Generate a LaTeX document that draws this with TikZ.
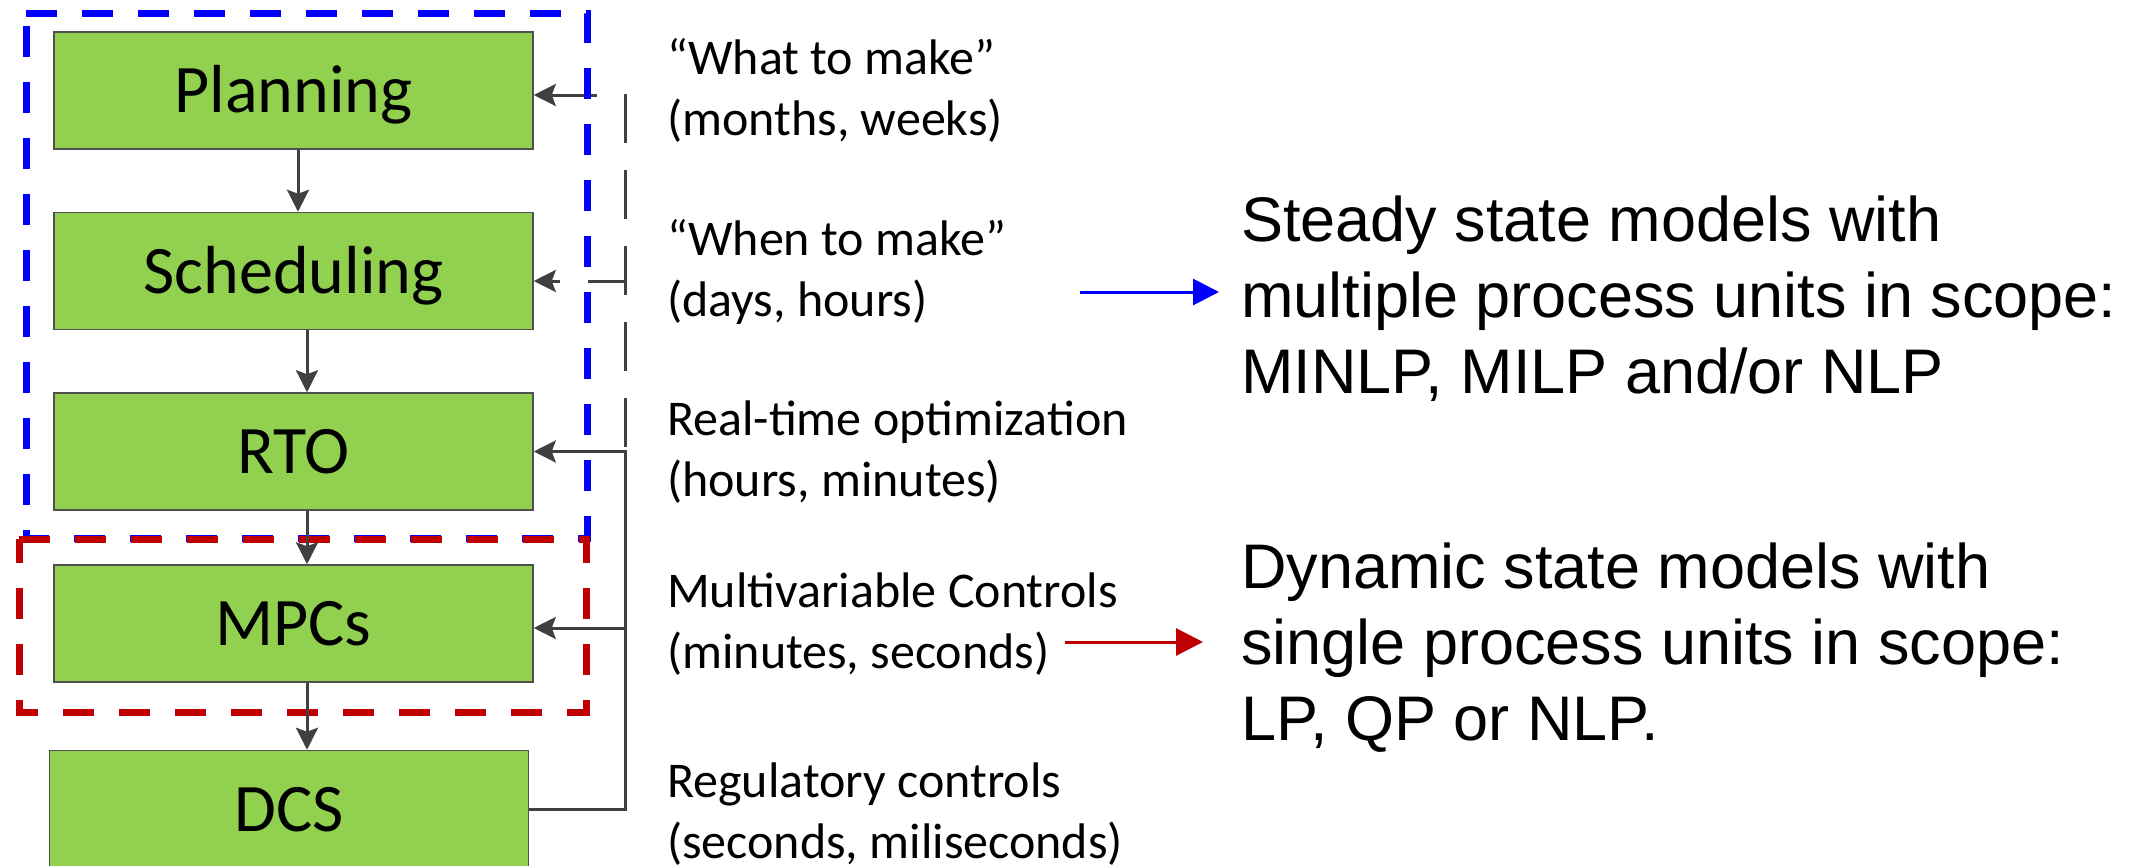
\documentclass[tikz,border=0pt]{standalone}
\usepackage{fontspec}
\setmainfont{Carlito}
\newfontfamily\notefont{Liberation Sans}
\usetikzlibrary{arrows.meta}
\definecolor{levelgreen}{HTML}{92D050}
\definecolor{levelline}{HTML}{505050}
\definecolor{wire}{HTML}{404040}
\definecolor{scopeblue}{HTML}{0000FF}
\definecolor{scopered}{HTML}{C00000}

\begin{document}
\begin{tikzpicture}[x=1pt,y=-1pt,
  level/.style={draw=levelline, line width=1.5pt, fill=levelgreen,
    minimum width=479pt, minimum height=117pt, inner sep=0pt,
    font=\fontsize{68}{80}\selectfont, text height=44pt, text depth=0pt},
  lbl/.style={anchor=base west, align=left, inner sep=0pt,
    font=\fontsize{50}{61}\selectfont},
  note/.style={anchor=base west, align=left, inner sep=0pt,
    font=\notefont\fontsize{63}{76}\selectfont},
  wiretip/.style={-{Stealth[length=22pt,width=22pt,inset=4pt]}},
  conn/.style={draw=wire, line width=3pt},
  fbdash/.style={conn, dash pattern=on 49pt off 27pt},
  frame/.style={line width=7pt, dash pattern=on 31pt off 25pt}
]
% canvas
\fill[white] (0,0) rectangle (2150,865);
\clip (0,0) rectangle (2150,865);

% hierarchy levels
\node[level] (plan)  at (293.5,90.5)  {Planning};
\node[level] (sched) at (293.5,271)   {Scheduling};
\node[level] (rto)   at (293.5,451.5) {RTO};
\node[level] (mpc)   at (293.5,623.5) {MPCs};
\node[level] (dcs)   at (289,809)     {DCS};

% feedback bus: dashed upper branch goes under the blue frame
\coordinate (bus) at (625,0);
\coordinate (planIn)  at ([yshift=-4.5pt]plan.east);
\coordinate (schedIn) at ([yshift=-10pt]sched.east);
\coordinate (mpcIn)   at ([yshift=-4.5pt]mpc.east);
\draw[fbdash, dash phase=71pt, wiretip] (bus |- rto.east) -- (bus |- planIn) -- (planIn);
\draw[conn, dash pattern=on 37pt off 28pt, wiretip] (schedIn -| bus) -- (schedIn);

% scope frames
\draw[scopeblue, frame] (26,13) -- (587,13) -- (587,538) -- (26,538) -- cycle;
\draw[scopered, frame] (19,539) -- (586,539) -- (586,712) -- (19,712) -- cycle;

% downward flow
\draw[conn, wiretip] ([xshift=4.5pt]plan.south) -- ([xshift=4.5pt]sched.north);
\draw[conn, wiretip] ([xshift=13.5pt]sched.south) -- ([xshift=13.5pt]rto.north);
\draw[conn, wiretip] ([xshift=13.5pt]rto.south) -- ([xshift=13.5pt]mpc.north);
\draw[conn, wiretip] ([xshift=13.5pt]mpc.south) -- ([xshift=18pt]dcs.north);

% solid lower part of the feedback bus
\draw[conn, wiretip] (dcs.east) -- (dcs.east -| bus) -- (bus |- rto.east) -- (rto.east);
\draw[conn, wiretip] (mpcIn -| bus) -- (mpcIn);

% time-scale labels (anchored on the baseline of their last line)
\node[lbl] (what)   at (667,135) {“What to make”\\(months, weeks)};
\node[lbl] (when)   at (667,316) {“When to make”\\(days, hours)};
\node[lbl] (rtolbl) at (667,496) {Real-time optimization\\(hours, minutes)};
\node[lbl] (mvlbl)  at (667,668) {Multivariable Controls\\(minutes, seconds)};
\node[lbl] (reglbl) at (667,858) {Regulatory controls\\(seconds, miliseconds)};

% model classes
\node[note] (steady)  at (1241,393) {Steady state models with\\multiple process units in scope:\\MINLP, MILP and/or NLP};
\node[note] (dynamic) at (1241,740) {Dynamic state models with\\single process units in scope:\\LP, QP or NLP.};

\coordinate (blueTail) at (1080,292);
\coordinate (blueHead) at (1219,292);
\draw[scopeblue, line width=3pt, -{Triangle[length=26pt,width=26pt]}] (blueTail) -- (blueHead);
\coordinate (redTail) at (1065,642);
\coordinate (redHead) at (1203,642);
\draw[scopered, line width=3pt, -{Triangle[length=27pt,width=27pt]}] (redTail) -- (redHead);
\end{tikzpicture}
\end{document}
